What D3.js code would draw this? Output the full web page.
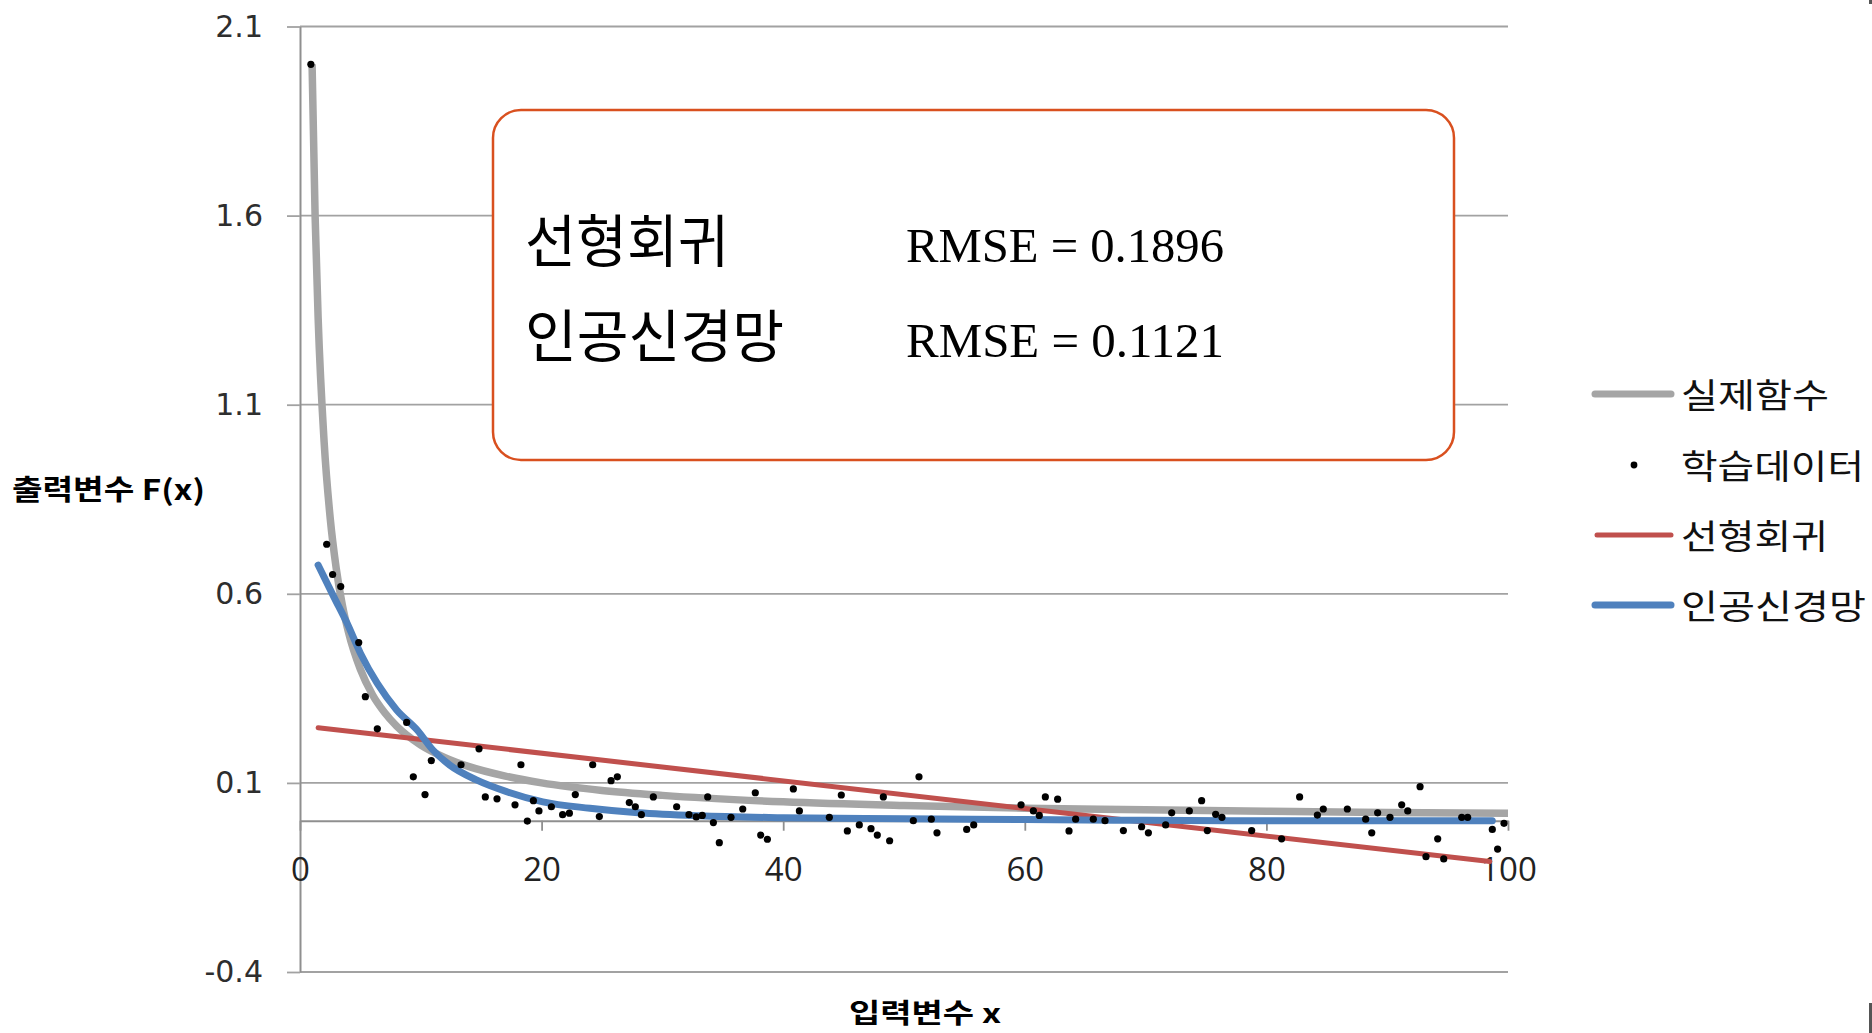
<!DOCTYPE html>
<html>
<head>
<meta charset="utf-8">
<script src="https://cdn.jsdelivr.net/npm/d3@7"></script>
<style>
  html, body { margin: 0; padding: 0; background: #fff; }
  svg { display: block; }
</style>
</head>
<body>
<svg id="chart" width="1872" height="1033"></svg>
<script>
// Axis ticks
const xTicks = [0, 20, 40, 60, 80, 100];
const yTicks = [-0.4, 0.1, 0.6, 1.1, 1.6, 2.1];

// 실제함수 (true function) sampled along x
const trueX = [1, 1.25, 1.5, 2, 2.5, 3, 3.5, 4, 5, 6, 7, 8, 10, 12, 14, 17, 20, 25, 30, 40, 50, 60, 70, 80, 90, 100];
const trueY = [2.0, 1.6, 1.33, 1.0, 0.8, 0.667, 0.571, 0.5, 0.4, 0.333, 0.286, 0.25, 0.2, 0.167, 0.143, 0.118, 0.1, 0.08, 0.067, 0.05, 0.04, 0.033, 0.029, 0.025, 0.022, 0.02];

// 학습데이터 (training samples)
const dataX = [0.9, 2.21, 2.70, 3.37, 4.86, 5.41, 6.40, 8.83, 9.38, 10.35, 10.87, 13.33, 14.82, 15.34, 16.31, 17.80,
  18.29, 18.82, 19.32, 19.78, 20.81, 21.74, 22.30, 22.79, 24.23, 24.78, 25.75, 26.27, 27.26, 27.76, 28.26,
  29.25, 31.18, 32.2, 32.8, 33.3, 33.75, 34.22, 34.71, 35.68, 36.65, 37.69, 38.14, 38.69, 40.84, 41.34,
  43.82, 44.81, 45.31, 46.30, 47.27, 47.79, 48.29, 48.81, 50.77, 51.24, 52.26, 52.73, 55.19, 55.77, 59.69,
  60.71, 61.20, 61.70, 62.72, 63.66, 64.21, 65.67, 66.64, 68.16, 69.67, 70.23, 71.66, 72.16, 73.62, 74.64,
  75.11, 75.80, 76.32, 78.78, 81.26, 82.75, 84.22, 84.71, 86.70, 88.22, 88.72, 89.21, 90.23, 91.20, 91.70,
  92.72, 93.21, 94.18, 94.68, 96.17, 96.66, 98.70, 99.14, 99.67];
const dataY = [2.0, 0.731, 0.651, 0.619, 0.471, 0.328, 0.243, 0.260, 0.116, 0.069, 0.159, 0.148, 0.190, 0.063, 0.058, 0.042,
  0.148, -0.001, 0.053, 0.026, 0.037, 0.016, 0.020, 0.069, 0.148, 0.011, 0.106, 0.116, 0.048, 0.037, 0.016,
  0.063, 0.037, 0.016, 0.010, 0.014, 0.063, -0.005, -0.058, 0.009, 0.031, 0.074, -0.038, -0.049, 0.084, 0.026,
  0.009, 0.068, -0.027, -0.011, -0.021, -0.038, 0.063, -0.053, 0.000, 0.116, 0.004, -0.032, -0.023, -0.011, 0.042,
  0.026, 0.014, 0.063, 0.057, -0.027, 0.004, 0.004, 0.000, -0.026, -0.016, -0.032, -0.011, 0.021, 0.026, 0.053,
  -0.026, 0.017, 0.009, -0.026, -0.048, 0.063, 0.015, 0.031, 0.031, 0.004, -0.032, 0.021, 0.009, 0.042, 0.026,
  0.090, -0.095, -0.048, -0.101, 0.009, 0.009, -0.023, -0.075, -0.007];

// 선형회귀 (linear regression fit)
const regX = [1.5, 98.5];
const regY = [0.246, -0.108];

// 인공신경망 (neural network fit)
const annX = [1.5, 2.8, 3.9, 5, 6.4, 8, 9.7, 11, 12.4, 14.6, 17.1, 20.1, 24, 28, 33, 40, 50, 60, 70, 80, 90, 98.7];
const annY = [0.676, 0.592, 0.522, 0.443, 0.363, 0.293, 0.24, 0.187, 0.147, 0.108, 0.077, 0.05, 0.033, 0.021, 0.013, 0.008, 0.005, 0.003, 0.001, 0.0, 0.0, 0.0];

// Series names and error figures
const seriesNames = ["실제함수", "학습데이터", "선형회귀", "인공신경망"];
const rmseLabels = ["선형회귀", "인공신경망"];
const rmseValues = ["0.1896", "0.1121"];

const svg = d3.select("#chart");
const x = d3.scaleLinear().domain([0, 100]).range([300, 1508]);
const y = d3.scaleLinear().domain([-0.4, 2.1]).range([972, 26.5]);

const gridColor = "#a2a2a2";
const colors = { truth: "#a5a5a5", reg: "#c0504d", ann: "#4f81bd" };

// Horizontal gridlines
svg.append("g")
  .selectAll("line")
  .data(yTicks)
  .join("line")
  .attr("x1", x(0)).attr("x2", x(100))
  .attr("y1", d => y(d)).attr("y2", d => y(d))
  .attr("stroke", gridColor).attr("stroke-width", 1.8);

// Y axis with left stubs and labels (plain hyphen for negatives)
const yFmt = d => d3.format(".1f")(d).replace("−", "-");
const yAxis = svg.append("g")
  .attr("transform", `translate(${x(0)},0)`)
  .call(d3.axisLeft(y).tickValues(yTicks).tickSizeInner(13).tickSizeOuter(0).tickPadding(24)
    .tickFormat(yFmt));
yAxis.select(".domain").attr("stroke", "#8f8f8f").attr("stroke-width", 2);
yAxis.selectAll(".tick line").attr("stroke", gridColor).attr("stroke-width", 1.8);
yAxis.selectAll(".tick text")
  .attr("font-family", "'DejaVu Sans', Verdana, sans-serif")
  .attr("font-size", 30).attr("fill", "#2e2e2e");

// X axis crossing at zero
const xAxis = svg.append("g")
  .attr("transform", `translate(0,${y(0)})`)
  .call(d3.axisBottom(x).tickValues(xTicks).tickSizeInner(10).tickSizeOuter(0).tickPadding(27));
xAxis.select(".domain").attr("stroke", "#8f8f8f").attr("stroke-width", 2);
xAxis.selectAll(".tick line").attr("stroke", "#8f8f8f").attr("stroke-width", 1.8);
xAxis.selectAll(".tick text")
  .attr("font-family", "'Open Sans', sans-serif")
  .attr("font-size", 33).attr("fill", "#222");

// Axis titles
svg.append("text")
  .attr("x", 12).attr("y", 500)
  .attr("font-family", "'Noto Sans CJK KR', sans-serif").attr("font-weight", 700)
  .attr("font-size", 28).attr("fill", "#000")
  .attr("textLength", 193).attr("lengthAdjust", "spacingAndGlyphs")
  .text("출력변수 F(x)");
svg.append("text")
  .attr("x", 849).attr("y", 1023)
  .attr("font-family", "'Noto Sans CJK KR', sans-serif").attr("font-weight", 700)
  .attr("font-size", 27).attr("fill", "#000")
  .attr("textLength", 152).attr("lengthAdjust", "spacingAndGlyphs")
  .text("입력변수 x");

// Series lines
const line = d3.line().x(d => x(d[0])).y(d => y(d[1])).curve(d3.curveMonotoneX);
const zip = (xs, ys) => xs.map((v, i) => [v, ys[i]]);

svg.append("path").datum(zip(trueX, trueY))
  .attr("d", line).attr("fill", "none")
  .attr("stroke", colors.truth).attr("stroke-width", 7.5);
svg.append("path").datum(zip(regX, regY))
  .attr("d", d3.line().x(d => x(d[0])).y(d => y(d[1])))
  .attr("fill", "none").attr("stroke", colors.reg).attr("stroke-width", 5).attr("stroke-linecap", "round");
svg.append("path").datum(zip(annX, annY))
  .attr("d", line).attr("fill", "none")
  .attr("stroke", colors.ann).attr("stroke-width", 7).attr("stroke-linecap", "round");

// Training samples
svg.append("g")
  .selectAll("circle")
  .data(zip(dataX, dataY))
  .join("circle")
  .attr("cx", d => x(d[0])).attr("cy", d => y(d[1]))
  .attr("r", 3.6).attr("fill", "#000");

// RMSE callout box
svg.append("rect")
  .attr("x", 493).attr("y", 110).attr("width", 961).attr("height", 350)
  .attr("rx", 28).attr("ry", 28)
  .attr("fill", "#fff").attr("stroke", "#d9501f").attr("stroke-width", 2.5);

const boxRows = [262, 357];
const nameWidths = [204, 259];
rmseLabels.forEach((name, i) => {
  svg.append("text")
    .attr("x", 525).attr("y", boxRows[i])
    .attr("font-family", "'Noto Sans CJK KR', sans-serif")
    .attr("font-size", 57).attr("fill", "#000")
    .attr("textLength", nameWidths[i]).attr("lengthAdjust", "spacingAndGlyphs")
    .text(name);
  svg.append("text")
    .attr("x", 906).attr("y", boxRows[i])
    .attr("font-family", "'Liberation Serif', 'Times New Roman', serif")
    .attr("font-size", 48).attr("fill", "#000")
    .attr("textLength", 318).attr("lengthAdjust", "spacingAndGlyphs")
    .text(`RMSE = ${rmseValues[i]}`);
});

// Legend
const legendRows = [394, 465, 535, 605];
const legendWidths = [148, 183, 147, 185];
const legend = svg.append("g");
legend.append("line").attr("x1", 1595).attr("x2", 1671).attr("y1", legendRows[0]).attr("y2", legendRows[0])
  .attr("stroke", colors.truth).attr("stroke-width", 7).attr("stroke-linecap", "round");
legend.append("circle").attr("cx", 1634).attr("cy", legendRows[1]).attr("r", 3.4).attr("fill", "#000");
legend.append("line").attr("x1", 1597).attr("x2", 1671).attr("y1", legendRows[2]).attr("y2", legendRows[2])
  .attr("stroke", colors.reg).attr("stroke-width", 5).attr("stroke-linecap", "round");
legend.append("line").attr("x1", 1595).attr("x2", 1671).attr("y1", legendRows[3]).attr("y2", legendRows[3])
  .attr("stroke", colors.ann).attr("stroke-width", 7).attr("stroke-linecap", "round");
seriesNames.forEach((name, i) => {
  legend.append("text")
    .attr("x", 1681).attr("y", legendRows[i] + 14)
    .attr("font-family", "'Noto Sans CJK KR', sans-serif")
    .attr("font-size", 34).attr("fill", "#111")
    .attr("textLength", legendWidths[i]).attr("lengthAdjust", "spacingAndGlyphs")
    .text(name);
});

// Page edge marks
svg.append("rect").attr("x", 1869).attr("y", 1003).attr("width", 3).attr("height", 30).attr("fill", "#555");
svg.append("rect").attr("x", 1869).attr("y", 0).attr("width", 3).attr("height", 4).attr("fill", "#555");
</script>
</body>
</html>
